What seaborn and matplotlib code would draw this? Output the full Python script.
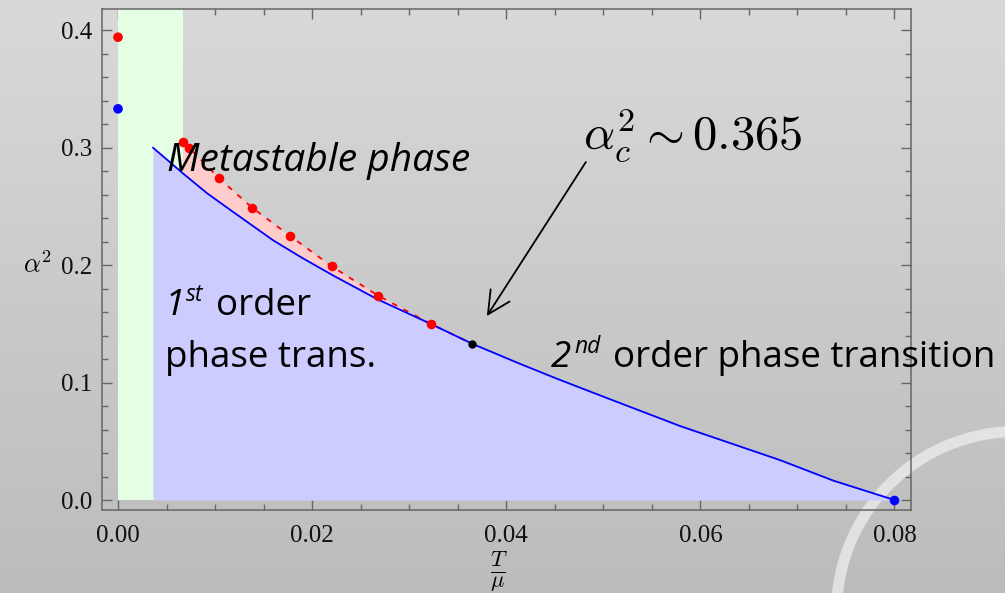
import numpy as np
import pandas as pd
import seaborn as sns
import matplotlib.pyplot as plt
from matplotlib.patches import Wedge
from matplotlib.transforms import IdentityTransform
from matplotlib.ticker import MultipleLocator

# %% data
# second-order (blue) boundary
blue_T = [0.0036, 0.0067, 0.0092, 0.0119, 0.0160, 0.0190, 0.0222, 0.0267, 0.0322,
          0.0365, 0.0414, 0.0453, 0.0500, 0.0579, 0.0682, 0.0737, 0.0800]
blue_a2 = [0.300, 0.278, 0.261, 0.245, 0.221, 0.206, 0.191, 0.171, 0.150,
           0.133, 0.116, 0.103, 0.088, 0.063, 0.034, 0.0165, 0.000]

# metastable (red) points, ending at the critical point
red_T = [0.0067, 0.0073, 0.0104, 0.0138, 0.0177, 0.0220, 0.0268, 0.0322, 0.0365]
red_a2 = [0.305, 0.300, 0.274, 0.249, 0.225, 0.199, 0.174, 0.150, 0.133]

# isolated points
zero_T = [0.0, 0.0]
zero_a2 = [0.394, 0.333]
crit_T, crit_a2 = [0.0365], [0.133]
end_T, end_a2 = [0.0800], [0.000]

green_T = [0.0, 0.0067]

df_blue = pd.DataFrame({"T": blue_T, "a2": blue_a2})
df_red = pd.DataFrame({"T": red_T, "a2": red_a2})

# %% figure
sns.set_theme(style="ticks")
plt.rcParams["mathtext.fontset"] = "cm"
plt.rcParams["font.family"] = ["Liberation Serif", "DejaVu Serif"]
plt.rcParams["text.color"] = "black"

W, H = 1005, 593
fig = plt.figure(figsize=(W / 100, H / 100), dpi=100)


def px(x, y):
    return x / W, 1 - y / H


# slide background gradient
bg = fig.add_axes([0, 0, 1, 1], zorder=-10)
grad = np.linspace(0, 1, 256).reshape(-1, 1)
bg.imshow(grad, aspect="auto", cmap=plt.matplotlib.colors.LinearSegmentedColormap.from_list(
    "g", ["#d9d9d9", "#bcbcbc"]), extent=[0, 1, 0, 1])
bg.set_axis_off()

# decorative ring of the slide
ring = Wedge((1017, H - 612), 186, 0, 360, width=11, transform=IdentityTransform(),
             facecolor="white", alpha=0.55, edgecolor="none", zorder=-5)
fig.add_artist(ring)

ax = fig.add_axes([102 / W, 1 - 510 / H, (911 - 102) / W, (510 - 9) / H])
ax.set_facecolor("none")

ax.fill_between(green_T, 0, 0.42, color="#e5ffe5", lw=0, zorder=1)
# metastable region: between red points and blue curve (0.0067 .. 0.0365)
ax.fill(red_T + blue_T[9:0:-1], red_a2 + blue_a2[9:0:-1], color="#ffcccc", lw=0, zorder=1.5)
ax.fill_between(blue_T, blue_a2, 0, color="#ccccff", lw=0, zorder=2)

sns.lineplot(data=df_red, x="T", y="a2", ax=ax, color="red", lw=1.3, sort=False,
             estimator=None, linestyle=(0, (3, 4)), zorder=3)
sns.lineplot(data=df_blue, x="T", y="a2", ax=ax, color="blue", lw=1.3, sort=False,
             estimator=None, zorder=4)
sns.scatterplot(x=red_T[:-1], y=red_a2[:-1], ax=ax, color="red", s=48, lw=0, zorder=5)
sns.scatterplot(x=zero_T, y=zero_a2, ax=ax, c=["red", "blue"], s=48, lw=0, zorder=5)
sns.scatterplot(x=crit_T, y=crit_a2, ax=ax, color="black", s=36, lw=0, zorder=6)
sns.scatterplot(x=end_T, y=end_a2, ax=ax, color="blue", s=48, lw=0, zorder=6, clip_on=False)

ax.set_xlim(-0.00165, 0.0817)
ax.set_ylim(-0.0085, 0.418)
ax.xaxis.set_major_locator(MultipleLocator(0.02))
ax.xaxis.set_minor_locator(MultipleLocator(0.005))
ax.yaxis.set_major_locator(MultipleLocator(0.1))
ax.yaxis.set_minor_locator(MultipleLocator(0.02))
ax.xaxis.set_major_formatter(plt.FuncFormatter(lambda v, p: f"{v:.2f}"))
ax.yaxis.set_major_formatter(plt.FuncFormatter(lambda v, p: f"{v:.1f}"))
ax.tick_params(which="both", direction="in", top=True, right=True, color="#666666",
               width=1.0, labelsize=18, labelcolor="#111111")
ax.tick_params(which="major", length=7)
ax.tick_params(which="minor", length=4.3)
ax.tick_params(axis="x", pad=11)
ax.tick_params(axis="y", pad=7)
for s in ax.spines.values():
    s.set_color("#666666")
    s.set_linewidth(1.1)
ax.set_xlabel("")
ax.set_ylabel("")

fig.text(*px(38, 265), r"$\alpha^2$", fontsize=19, ha="center", va="center")
fig.text(*px(499, 572), r"$\frac{T}{\mu}$", fontsize=23, ha="center", va="center")

# annotations (slide text)
sans = ["Open Sans", "DejaVu Sans"]
big = 26.5
sup = 16.5
fig.text(*px(167, 171), "Metastable phase", fontsize=28, style="italic", family=sans,
         va="baseline")
fig.text(*px(165, 315), "1", fontsize=big, style="italic", family=sans, va="baseline")
fig.text(*px(186, 301), "st", fontsize=sup, style="italic", family=sans, va="baseline")
fig.text(*px(216, 315), "order", fontsize=big, family=sans, va="baseline")
fig.text(*px(165, 367), "phase trans.", fontsize=big, family=sans, va="baseline")
fig.text(*px(551, 367), "2", fontsize=big, style="italic", family=sans, va="baseline")
fig.text(*px(574, 353), "nd", fontsize=sup, style="italic", family=sans, va="baseline")
fig.text(*px(613, 367), "order phase transition", fontsize=big, family=sans, va="baseline")

fig.text(*px(583, 150), r"$\alpha_c^2 \sim 0.365$", fontsize=35, va="baseline")
ax.annotate("", xy=(0.0380, 0.1566), xytext=(0.0482, 0.2877),
            arrowprops=dict(arrowstyle="->,head_length=0.9,head_width=0.45",
                            color="black", lw=1.3, mutation_scale=18, shrinkA=0, shrinkB=0))

fig.savefig("out.png", dpi=100)
